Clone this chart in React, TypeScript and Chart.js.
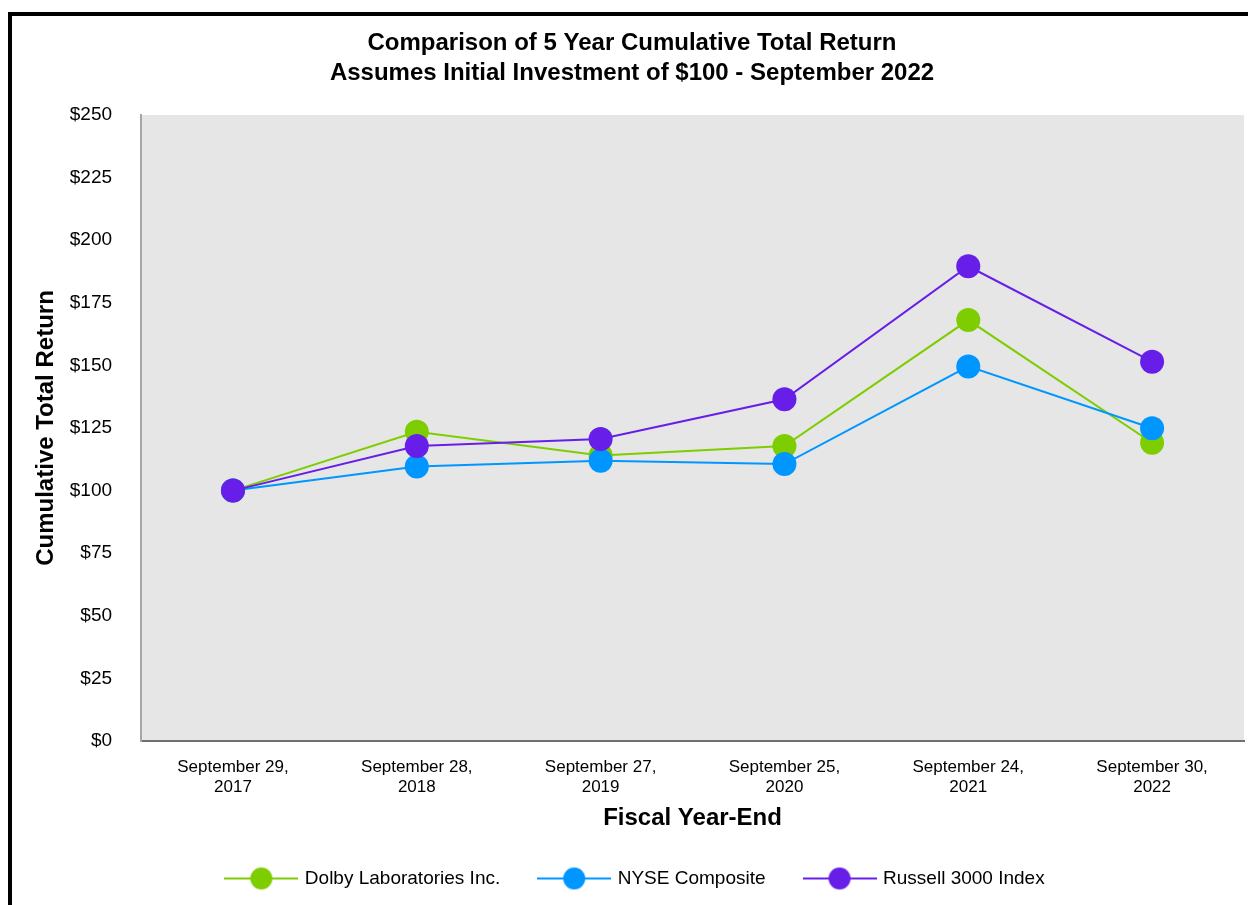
import React, { useEffect, useRef } from "react";
import { Chart, registerables } from "chart.js";

Chart.register(...registerables);

const categories: string[][] = [
  ["September 29,", "2017"],
  ["September 28,", "2018"],
  ["September 27,", "2019"],
  ["September 25,", "2020"],
  ["September 24,", "2021"],
  ["September 30,", "2022"],
];

const dolbyValues = [100, 123.5, 114, 117.8, 168.1, 119.1];
const nyseValues = [100, 109.6, 111.9, 110.6, 149.6, 124.9];
const russellValues = [100, 117.8, 120.6, 136.5, 189.6, 151.5];

const seriesNames = ["Dolby Laboratories Inc.", "NYSE Composite", "Russell 3000 Index"];
const seriesColors = ["#7dcd00", "#0096ff", "#661ee8"];

const titleLines = [
  "Comparison of 5 Year Cumulative Total Return",
  "Assumes Initial Investment of $100 - September 2022",
];
const yAxisTitle = "Cumulative Total Return";
const xAxisTitle = "Fiscal Year-End";
const yMin = 0;
const yMax = 250;
const yStep = 25;

const FONT = "'Liberation Sans', Arial, Helvetica, sans-serif";

function makeLegendSymbol(color: string): HTMLCanvasElement {
  const c = document.createElement("canvas");
  c.width = 74;
  c.height = 24;
  const ctx = c.getContext("2d")!;
  ctx.strokeStyle = color;
  ctx.lineWidth = 2;
  ctx.beginPath();
  ctx.moveTo(0, 12);
  ctx.lineTo(74, 12);
  ctx.stroke();
  ctx.fillStyle = color;
  ctx.beginPath();
  ctx.arc(37, 12, 11, 0, Math.PI * 2);
  ctx.fill();
  return c;
}

const plotBackground = {
  id: "plotBackground",
  beforeDraw(chart: any) {
    const { ctx, chartArea } = chart;
    if (!chartArea) return;
    ctx.save();
    ctx.fillStyle = "#e6e6e6";
    ctx.fillRect(chartArea.left, chartArea.top, chartArea.right - chartArea.left, chartArea.bottom - chartArea.top);
    ctx.restore();
  },
};

const legendNudge = {
  id: "legendNudge",
  afterLayout(chart: any) {
    if (chart.legend) {
      chart.legend.left += 4;
      chart.legend.right += 4;
    }
  },
};

export default function App() {
  const canvasRef = useRef<HTMLCanvasElement | null>(null);

  useEffect(() => {
    if (!canvasRef.current) return;
    const seriesValues = [dolbyValues, nyseValues, russellValues];
    const symbols = seriesColors.map((c) => makeLegendSymbol(c));
    const chart = new Chart(canvasRef.current, {
      type: "line",
      data: {
        labels: categories as any,
        datasets: seriesValues.map((vals, i) => ({
          label: seriesNames[i],
          data: vals,
          borderColor: seriesColors[i],
          backgroundColor: seriesColors[i],
          pointBackgroundColor: seriesColors[i],
          pointBorderColor: seriesColors[i],
          pointBorderWidth: 0,
          pointRadius: 12,
          pointHoverRadius: 12,
          borderWidth: 2,
          tension: 0,
          fill: false,
          order: 3 - i,
        })),
      },
      options: {
        animation: false,
        responsive: true,
        maintainAspectRatio: false,
        layout: { padding: { top: 28, left: 20, right: 22, bottom: 7 } },
        plugins: {
          tooltip: { enabled: false },
          title: {
            display: true,
            text: titleLines,
            color: "#000",
            font: { family: FONT, size: 24, weight: "bold", lineHeight: 1.25 },
            padding: { top: 0, bottom: 27 },
          },
          legend: {
            display: true,
            position: "bottom",
            labels: {
              usePointStyle: true,
              pointStyleWidth: 68,
              padding: 40,
              color: "#000",
              font: { family: FONT, size: 19 },
              generateLabels: (ch: any) =>
                ch.data.datasets.map((ds: any, i: number) => ({
                  text: ds.label,
                  fillStyle: seriesColors[i],
                  strokeStyle: seriesColors[i],
                  lineWidth: 0,
                  pointStyle: symbols[i],
                  hidden: false,
                  datasetIndex: i,
                  fontColor: "#000",
                })),
            },
          },
        },
        scales: {
          x: {
            type: "category",
            offset: true,
            grid: { display: false, drawTicks: false },
            border: { display: true, color: "#707070", width: 2 },
            ticks: {
              color: "#000",
              padding: 16,
              maxRotation: 0,
              autoSkip: false,
              font: { family: FONT, size: 17, lineHeight: 1.2 },
            },
            title: {
              display: true,
              text: xAxisTitle,
              color: "#000",
              font: { family: FONT, size: 24, weight: "bold", lineHeight: 1.1 },
              padding: { top: -9, bottom: -2.2 },
            },
          },
          y: {
            type: "linear",
            min: yMin,
            max: yMax,
            grid: { display: false, drawTicks: false },
            border: { display: true, color: "#a6a6a6", width: 2 },
            ticks: {
              stepSize: yStep,
              color: "#000",
              padding: 29,
              font: { family: FONT, size: 19 },
              callback: (v: any) => "$" + v,
            },
            title: {
              display: true,
              text: yAxisTitle,
              color: "#000",
              font: { family: FONT, size: 24, weight: "bold", lineHeight: 1.2 },
              padding: { top: 12, bottom: -20 },
            },
          },
        },
      },
      plugins: [plotBackground, legendNudge],
    } as any);
    return () => chart.destroy();
  }, []);

  return (
    <div
      style={{
        position: "fixed",
        left: 0,
        top: 0,
        width: 1248,
        height: 905,
        overflow: "hidden",
        background: "#fff",
      }}
    >
      <div
        style={{
          position: "absolute",
          left: 8,
          top: 12,
          width: 1250,
          height: 1000,
          border: "4px solid #000",
          boxSizing: "border-box",
        }}
      />
      <div style={{ position: "absolute", left: 0, top: 0, width: 1266, height: 905 }}>
        <canvas ref={canvasRef} />
      </div>
    </div>
  );
}
